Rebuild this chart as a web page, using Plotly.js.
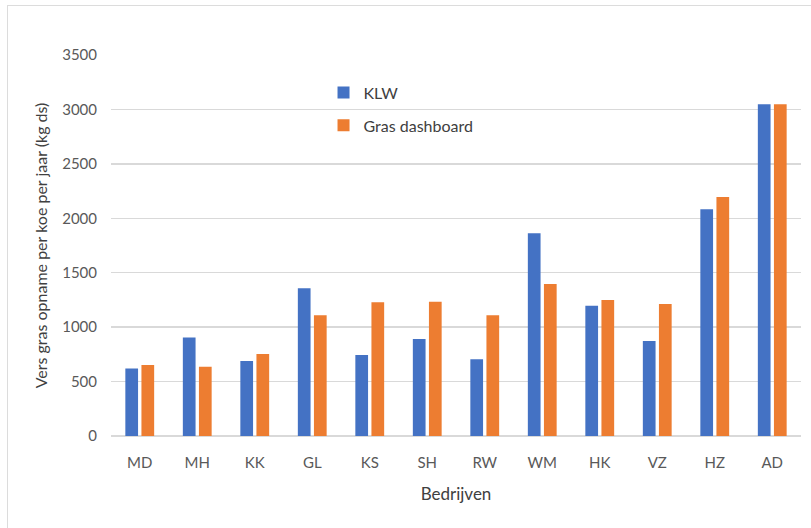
<!DOCTYPE html>
<html>
<head>
<meta charset="utf-8">
<script src="https://cdn.plot.ly/plotly-3.0.1.min.js"></script>
<style>
  html, body { margin: 0; padding: 0; background: #ffffff; }
  #wrap { position: relative; width: 811px; height: 528px; overflow: hidden; }
  #chart { position: absolute; left: 0; top: 0; width: 811px; height: 528px; }
  #frameTop { position: absolute; left: 7px; top: 5px; width: 804px; height: 1px; background: #dcdcdc; }
  #frameLeft { position: absolute; left: 7px; top: 5px; width: 1px; height: 523px; background: #dcdcdc; }
</style>
</head>
<body>
<div id="wrap">
  <div id="chart"></div>
  <div id="frameTop"></div>
  <div id="frameLeft"></div>
</div>
<script>
// Companies (x categories)
const bedrijven = ['MD', 'MH', 'KK', 'GL', 'KS', 'SH', 'RW', 'WM', 'HK', 'VZ', 'HZ', 'AD'];

// Fresh grass intake per cow per year (kg ds)
const klw = [620, 905, 690, 1357, 745, 892, 706, 1862, 1196, 872, 2082, 3048];
const grasDashboard = [652, 636, 753, 1110, 1229, 1233, 1110, 1397, 1250, 1212, 2195, 3048];

// Y axis ticks
const yTicks = [0, 500, 1000, 1500, 2000, 2500, 3000, 3500];

const fontFamily = 'Lato, "Open Sans", "Noto Sans", sans-serif';
const textColor = '#595959';

const traces = [
  {
    type: 'bar',
    name: 'KLW',
    x: bedrijven,
    y: klw,
    marker: { color: '#4472C4' },
    legendgroup: 'a',
    hoverinfo: 'x+y'
  },
  {
    type: 'bar',
    name: 'Gras dashboard',
    x: bedrijven,
    y: grasDashboard,
    marker: { color: '#ED7D31' },
    legendgroup: 'b',
    hoverinfo: 'x+y'
  }
];

const layout = {
  width: 811,
  height: 528,
  paper_bgcolor: '#ffffff',
  plot_bgcolor: '#ffffff',
  font: { family: fontFamily, color: textColor, size: 15 },
  margin: { l: 111, r: 10, t: 55, b: 92, pad: 0 },
  barmode: 'group',
  bargap: 0.44,
  bargroupgap: 0.21,
  showlegend: true,
  legend: {
    x: 0.308, y: 0.946,
    xanchor: 'left', yanchor: 'top',
    bgcolor: 'rgba(255,255,255,0)',
    font: { family: fontFamily, size: 16, color: '#404040' },
    traceorder: 'grouped',
    tracegroupgap: 9,
    itemwidth: 30
  },
  xaxis: {
    type: 'category',
    tickvals: bedrijven,
    ticktext: bedrijven,
    showgrid: false,
    showline: false,
    zeroline: false,
    ticks: '',
    ticklabelstandoff: 16,
    tickfont: { family: fontFamily, size: 15, color: textColor },
    title: {
      text: 'Bedrijven',
      font: { family: fontFamily, size: 17, color: '#404040' },
      standoff: 18
    }
  },
  yaxis: {
    range: [0, 3500],
    tickvals: yTicks,
    ticktext: yTicks.map(String),
    showgrid: true,
    gridcolor: '#d9d9d9',
    gridwidth: 1.3,
    zeroline: true,
    zerolinecolor: '#d9d9d9',
    zerolinewidth: 1.3,
    showline: false,
    ticks: '',
    ticklabelstandoff: 13,
    tickfont: { family: fontFamily, size: 15, color: textColor },
    title: {
      text: 'Vers gras opname per koe per jaar (kg ds)',
      font: { family: fontFamily, size: 16, color: '#404040' },
      standoff: 10
    }
  }
};

Plotly.newPlot('chart', traces, layout, { displayModeBar: false, staticPlot: true });
</script>
</body>
</html>
